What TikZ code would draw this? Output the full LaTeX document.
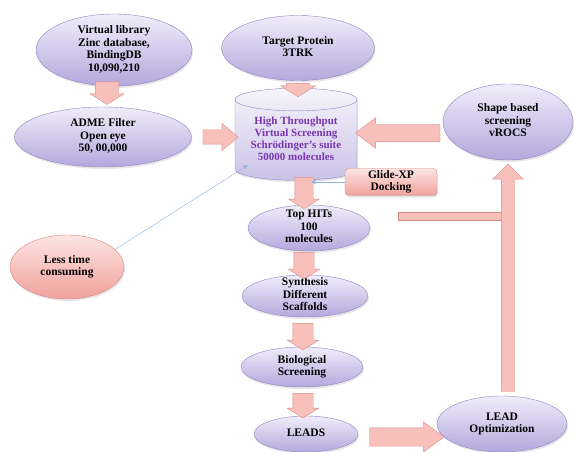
\documentclass[tikz,border=0pt]{standalone}
\usepackage{fontspec}
\setmainfont{Liberation Serif}
\usetikzlibrary{shapes.geometric,shapes.arrows,calc,arrows.meta,shadows}

\definecolor{ellline}{HTML}{9282C4}
\definecolor{elltop}{HTML}{F0EDFA}
\definecolor{ellbot}{HTML}{B4A8DC}
\definecolor{pinkline}{HTML}{D98580}
\definecolor{pinktop}{HTML}{FDE4E2}
\definecolor{pinkbot}{HTML}{F0A19C}
\definecolor{arrowfill}{HTML}{F8C0BB}
\definecolor{arrowline}{HTML}{D98A84}
\definecolor{thinblue}{HTML}{8AB0DC}
\definecolor{htspurple}{HTML}{7A35B0}

\newcommand\txtfont{\fontsize{11.5}{12.5}\selectfont\bfseries}
\newcommand\stack[1]{\smash{\raisebox{-.25em}{\begin{tabular}{@{}c@{}}#1\end{tabular}}}}
% block arrow between two points
\newcommand\fatarrow[4][]{%
    \path let \p1=#3, \p2=#4,
        \n1={atan2(\y2-\y1,\x2-\x1)}, \n2={veclen(\x2-\x1,\y2-\y1)} in
        node[fat, #1, minimum height=\n2, rotate=\n1] (#2)
        at ($(\p1)!0.5!(\p2)$) {};}

\begin{document}
\begin{tikzpicture}[
    x=1pt, y=-1pt,
    ell/.style={ellipse, draw=ellline, top color=elltop, bottom color=ellbot,
        inner sep=0pt, font=\txtfont,
        drop shadow={opacity=.2, shadow xshift=1pt, shadow yshift=-2pt}},
    pinkell/.style={ell, draw=pinkline, top color=pinktop, bottom color=pinkbot},
    pinkbox/.style={pinkell, rectangle, rounded corners=4pt},
    htscyl/.style={cylinder, shape border rotate=90, aspect=.25, draw=ellline,
        top color=elltop!60!white, bottom color=ellbot!70!white, inner sep=0pt,
        font=\txtfont\fontsize{11}{12}\selectfont, text=htspurple,
        drop shadow={opacity=.2, shadow xshift=1pt, shadow yshift=-2pt}},
    fat/.style={single arrow, draw=arrowline, fill=arrowfill, inner xsep=0pt,
        single arrow head indent=0pt},
    vfat/.style={inner ysep=11.5pt, single arrow head extend=5.5pt,
        single arrow tip angle=116},
    hfat/.style={inner ysep=7pt, single arrow head extend=6.5pt,
        single arrow tip angle=80},
    upfat/.style={inner ysep=6.5pt, single arrow head extend=8.5pt,
        single arrow tip angle=90},
    thin arrow/.style={thin, draw=thinblue, -{Stealth[length=5pt,width=4pt]}},
    bar/.style={draw=arrowline, fill=arrowfill}
    ]
    \useasboundingbox (0,0) rectangle (574,452);
    % sources
    \node[ell, minimum width=156, minimum height=72] (vlib) at (114,50)
        {\stack{Virtual library\\Zinc database,\\BindingDB\\10,090,210}};
    \node[ell, minimum width=153, minimum height=65] (target) at (298,48)
        {\stack{Target Protein\\3TRK}};
    \node[ell, minimum width=177, minimum height=60] (adme) at (103,137)
        {\stack{ADME Filter\\Open eye\\50, 00,000}};
    \node[htscyl, minimum width=122, minimum height=92] (hts) at (296,140)
        {\stack{High Throughput\\Virtual Screening\\Schrödinger's suite\\50000 molecules}};
    \node[ell, minimum width=130, minimum height=76] (shape) at (508,122)
        {\stack{Shape based\\screening\\vROCS}};
    % side notes
    \node[pinkbox, minimum width=92, minimum height=27] (glide) at (391,182)
        {\stack{Glide-XP\\Docking}};
    \node[pinkell, minimum width=114, minimum height=64] (less) at (67,267)
        {\stack{Less time\\consuming}};
    % main column
    \node[ell, minimum width=122, minimum height=46] (tophits) at (309,228)
        {\stack{Top HITs\\100\\molecules}};
    \node[ell, minimum width=126, minimum height=42] (synth) at (305,296)
        {\stack{Synthesis\\Different\\Scaffolds}};
    \node[ell, minimum width=122, minimum height=40] (bio) at (302,367)
        {\stack{Biological\\Screening}};
    \node[ell, minimum width=104, minimum height=36] (leads) at (306,434)
        {\stack{LEADS}};
    \node[ell, minimum width=130, minimum height=56] (leadopt) at (502,424)
        {\stack{LEAD\\Optimization}};
    % block arrows
    \fatarrow[vfat]{a1}{($(vlib.south)+(-7,-8)$)}{($(adme.north)+(4,-6)$)}
    \fatarrow[vfat]{a2}{($(target.south)+(0,-1)$)}{($(hts.north)+(2,5)$)}
    \fatarrow[hfat]{a3}{($(adme.east)+(7,0)$)}{($(hts.west)+(-1,-3)$)}
    \fatarrow[hfat, inner ysep=8.5pt, single arrow tip angle=74]{a4}{($(shape.west)+(3,11)$)}{($(hts.east)+(4,-7)$)}
    \fatarrow[vfat, inner ysep=9pt, single arrow head extend=6pt]{a5}{($(hts.south)+(8,-6)$)}{($(tophits.north)+(-5,1)$)}
    \fatarrow[vfat, inner ysep=10pt]{a6}{($(tophits.south)+(-5,-2)$)}{($(synth.north)+(-1,1)$)}
    \fatarrow[vfat, inner ysep=10pt]{a7}{($(synth.south)+(-2,3)$)}{($(bio.north)+(1,0)$)}
    \fatarrow[vfat, inner ysep=10pt]{a8}{($(bio.south)+(1,3)$)}{($(leads.north)+(-3,-1)$)}
    \fatarrow[hfat, inner ysep=9pt, single arrow head extend=6pt,
        single arrow tip angle=72]{a9}{($(leads.east)+(5,3)$)}{($(leadopt.west)+(1,13)$)}
    \draw[bar] (398,212) rectangle (505,220);
    \fatarrow[upfat]{a10}{($(leadopt.north)+(6,-1)$)}{($(shape.south)+(0,7)$)}
    % thin pointers
    \coordinate (dock) at (311,182);
    \coordinate (htscorner) at (248,165);
    \draw[thin arrow] (glide.west) -- (dock);
    \draw[thin arrow] (less.20) -- (htscorner);
\end{tikzpicture}
\end{document}
